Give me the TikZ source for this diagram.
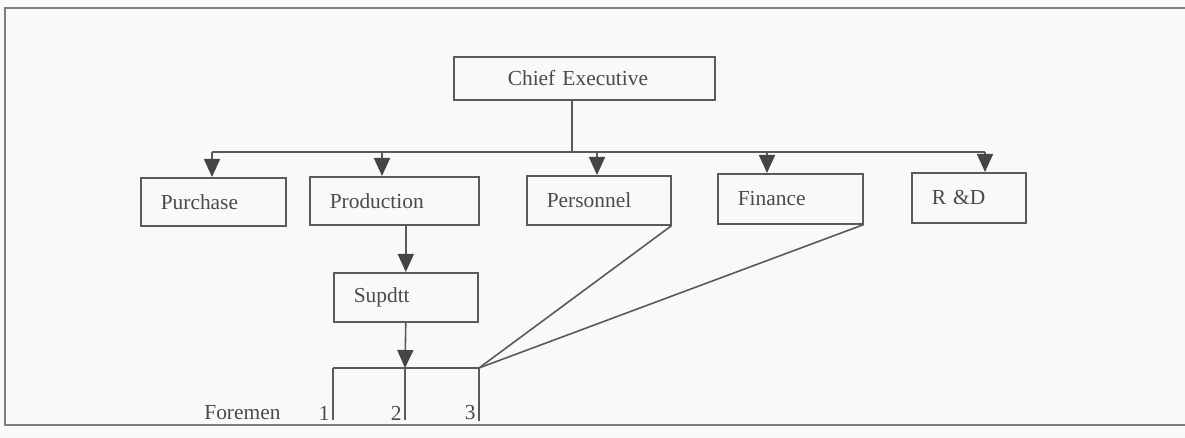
\documentclass[tikz,border=0pt]{standalone}
\usepackage{fontspec}
\setmainfont{Liberation Serif}
\usetikzlibrary{arrows.meta}
\definecolor{inkline}{HTML}{5A5A5A}
\definecolor{inktip}{HTML}{454545}
\definecolor{inktext}{HTML}{4A4A4A}
\definecolor{paper}{HTML}{F9F9F9}
\definecolor{framegray}{HTML}{7A7F80}
\begin{document}
\begin{tikzpicture}[x=0.5pt,y=-0.5pt,
  every node/.style={font=\fontsize{10.7}{12}\selectfont, text=inktext},
  unit/.style={draw=inkline, line width=0.8pt, inner ysep=0pt, inner xsep=10pt,
               align=left, anchor=north west},
  conn/.style={draw=inkline, line width=0.8pt},
  arr/.style={conn, -{Triangle[length=9pt,width=8pt,color=inktip]}},
  lbl/.style={inner sep=0pt}]
  % page and outer frame
  \path[use as bounding box, fill=paper] (0,0) rectangle (1185,438);
  \draw[framegray, line width=0.8pt] (1185,8) -- (5,8) -- (5,425) -- (1185,425);

  % top of the chart
  \node[unit, inner xsep=27pt, text width=76.5pt, minimum height=21.5pt] (chief) at (453,56) {Chief Executive};

  % departments
  \node[unit, text width=52.5pt, minimum height=24pt] (purchase)   at (140,177) {Purchase};
  \node[unit, text width=64.5pt, minimum height=24pt] (production) at (309,176) {Production};
  \node[unit, text width=52pt,   minimum height=24.5pt] (personnel) at (526,175) {Personnel};
  \node[unit, text width=52.5pt, minimum height=25pt] (finance)    at (717,173) {Finance};
  \node[unit, text width=37pt,   minimum height=25pt] (rd)         at (911,172) {R \&D};

  % superintendent
  \node[unit, text width=52pt, minimum height=24.5pt] (supdtt) at (333,272) {Supdtt};

  % distribution bar under the chief executive
  \coordinate (trunk) at (572,152);
  \coordinate (b1) at (212,152);
  \coordinate (b2) at (382,152);
  \coordinate (b3) at (597,152);
  \coordinate (b4) at (767,152);
  \coordinate (b5) at (985,152);
  \draw[conn] (chief.south -| trunk) -- (trunk);
  \draw[conn] (b1) -- (b5);
  \draw[arr] (b1) -- (b1 |- purchase.north);
  \draw[arr] (b2) -- (b2 |- production.north);
  \draw[arr] (b3) -- (b3 |- personnel.north);
  \draw[arr] (b4) -- (b4 |- finance.north);
  \draw[arr] (b5) -- (b5 |- rd.north);

  % production to superintendent
  \draw[arr] (production.south -| supdtt.north) -- (supdtt.north);

  % foremen
  \coordinate (fL) at (333,368);
  \coordinate (fM) at (405,368);
  \coordinate (fR) at (479,368);
  \draw[arr] (supdtt.south) -- (fM);
  \draw[conn] (fL) -- (fR);
  \node[lbl, anchor=east] (n1) at (330,413) {1};
  \node[lbl, anchor=east] (n2) at (402,413) {2};
  \node[lbl, anchor=east] (n3) at (476,413) {3};
  \node[lbl, anchor=west] (foremen) at (204,413) {Foremen};
  \draw[conn] (fL) -- (fL |- n1.south);
  \draw[conn] (fM) -- (fM |- n2.south);
  \draw[conn] (fR) -- (fR |- n3.south);

  % staff links to the foremen
  \draw[conn] (fR) -- (personnel.south east);
  \draw[conn] (fR) -- (finance.south east);
\end{tikzpicture}
\end{document}
